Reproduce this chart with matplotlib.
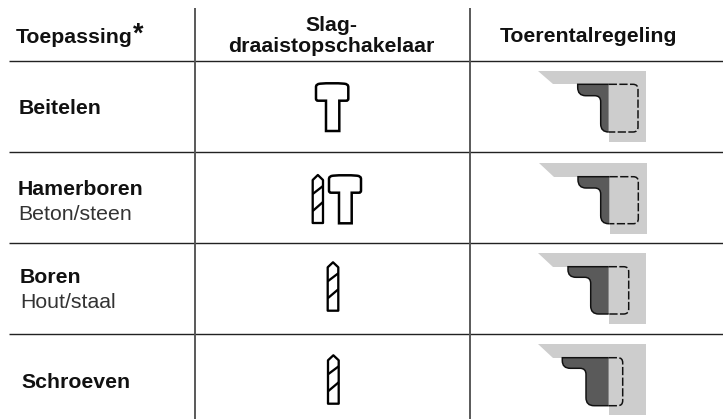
import matplotlib
matplotlib.use("Agg")
import matplotlib.pyplot as plt
from matplotlib.path import Path
from matplotlib.patches import PathPatch, Polygon

plt.rcParams['font.family'] = ['Liberation Sans', 'DejaVu Sans']

# tekst: (x, baseline y, tekst, gewicht)
row_labels = [
    (19, 114, "Beitelen", "bold"),
    (18, 194.7, "Hamerboren", "bold"),
    (18, 220, "Beton/steen", "normal"),
    (20, 283, "Boren", "bold"),
    (20, 308, "Hout/staal", "normal"),
    (21, 388, "Schroeven", "bold"),
]
header_labels = [
    (331.5, 31, "Slag-"),
    (331.5, 52, "draaistopschakelaar"),
    (589, 41.7, "Toerentalregeling"),
]

hlines_y = [61.5, 152, 243, 333.5]
vlines_x = [194.5, 470]

# boor: links, rechts, boven, onder
drills = [(312.7, 323, 175, 223), (327.7, 338.3, 262.3, 310.7), (328, 338.7, 355.3, 403.7)]
# hamer: kop links, kop rechts, steel links, steel rechts, boven, kop onder, onder
hammers = [(316, 348.3, 326, 339.3, 84, 100.7, 131), (329, 361, 339, 351.7, 176, 192.7, 223.3)]

# grijs vlak: links, rechts, boven, onder
gray_boxes = [(537.7, 646, 71, 142), (538.5, 646.7, 162.7, 234), (537.7, 646, 253, 324.3), (537.7, 646, 344.3, 415.3)]
# gereedschap: links, stap x, rechts, boven, stap y, onder
cuts = [(577.7, 600.7, 638, 84.3, 95.7, 132), (578, 600.7, 638.3, 176.7, 188, 223.7),
        (568, 590.7, 628.7, 266.7, 277.3, 314), (562.3, 586, 622.7, 357.7, 368.3, 405.7)]
split_x = 71  # afstand van grijs links tot de scheiding

GRAY = "#cdcdcd"
DARK = "#5a5a5a"
BLACK = "#111111"
PX = 0.72  # 1 pixel in punten bij dpi 100

fig = plt.figure(figsize=(7.23, 4.19), dpi=100)
ax = fig.add_axes([0, 0, 1, 1])
ax.set_xlim(0, 723)
ax.set_ylim(419, 0)
ax.axis("off")


def curve(points, codes, **kw):
    ax.add_patch(PathPatch(Path(points, codes), **kw))


def draw_hammer(l, r, sl, sr, t, hb, b):
    pts = [(sl, b), (sl, hb), (l + 2, hb), (l, hb), (l, hb - 2), (l, t + 3), (l, t), (l + 4, t - 0.3),
           ((l + r) / 2, t - 1.4), (r - 4, t - 0.3), (r, t), (r, t + 3), (r, hb - 2), (r, hb), (r - 2, hb),
           (sr, hb), (sr, b), (sl, b)]
    codes = [Path.MOVETO, Path.LINETO, Path.LINETO, Path.CURVE3, Path.CURVE3, Path.LINETO, Path.CURVE3, Path.CURVE3,
             Path.CURVE3, Path.CURVE3, Path.CURVE3, Path.CURVE3, Path.LINETO, Path.CURVE3, Path.CURVE3,
             Path.LINETO, Path.LINETO, Path.CLOSEPOLY]
    curve(pts, codes, fc="none", ec="black", lw=2.5 * PX, joinstyle="miter")


def draw_drill(l, r, t, b):
    ax.add_patch(Polygon([(l, b), (l, t + 5), ((l + r) / 2, t), (r, t + 5), (r, b)], closed=True,
                         fc="none", ec="black", lw=2.3 * PX, joinstyle="round"))
    ax.plot([l, r], [t + 19, t + 11], color="black", lw=2.3 * PX, solid_capstyle="butt")
    ax.plot([l, r], [t + 36, t + 27], color="black", lw=2.3 * PX, solid_capstyle="butt")


def draw_cut(box, cut):
    gl, gr, gt, gb = box
    l, sx, r, t, sy, b = cut
    mid = gl + split_x
    ax.add_patch(Polygon([(gl, gt), (gr, gt), (gr, gb), (mid, gb), (mid, t), (gl + 15.5, t)],
                         closed=True, fc=GRAY, ec="none"))
    pts = [(mid, t), (l, t), (l, t + 3), (l, sy), (l + 8, sy), (sx - 6, sy), (sx, sy), (sx, sy + 6),
           (sx, b - 8), (sx, b), (sx + 8, b), (mid, b), (mid, t)]
    codes = [Path.MOVETO, Path.LINETO, Path.LINETO, Path.CURVE3, Path.CURVE3, Path.LINETO, Path.CURVE3, Path.CURVE3,
             Path.LINETO, Path.CURVE3, Path.CURVE3, Path.LINETO, Path.CLOSEPOLY]
    curve(pts, codes, fc=DARK, ec="none")
    curve(pts[:-1], codes[:-1], fc="none", ec=BLACK, lw=1.5 * PX)
    # stippellijn
    dash = [(mid, t), (r - 5, t), (r, t), (r, t + 5), (r, b - 5), (r, b), (r - 5, b), (mid, b)]
    dash_codes = [Path.MOVETO, Path.LINETO, Path.CURVE3, Path.CURVE3, Path.LINETO, Path.CURVE3, Path.CURVE3, Path.LINETO]
    curve(dash, dash_codes, fc="none", ec=BLACK, lw=1.5 * PX, linestyle=(0, (5.5, 1.6)))


for box, cut in zip(gray_boxes, cuts):
    draw_cut(box, cut)
for h in hammers:
    draw_hammer(*h)
for d in drills:
    draw_drill(*d)

for y in hlines_y:
    ax.plot([9, 723], [y, y], color="#222222", lw=1.4 * PX, solid_capstyle="butt")
for x in vlines_x:
    ax.plot([x, x], [8, 419], color="#555555", lw=1.9 * PX, solid_capstyle="butt")

FS = 15.3
ax.text(16, 43, "Toepassing", fontsize=FS, fontweight="bold", va="baseline", ha="left", color="#111111")
ax.text(133, 42, "*", fontsize=FS + 4, fontweight="bold", va="baseline", ha="left", color="#111111")
for x, y, s in header_labels:
    ax.text(x, y, s, fontsize=FS, fontweight="bold", va="baseline", ha="center", color="#111111")
for x, y, s, w in row_labels:
    ax.text(x, y, s, fontsize=FS, fontweight=w, va="baseline", ha="left",
            color="#111111" if w == "bold" else "#333333")

fig.savefig("out.png", dpi=100)
